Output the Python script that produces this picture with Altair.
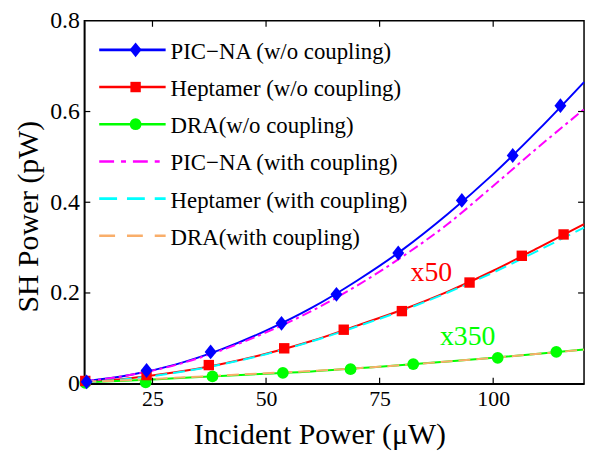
import altair as alt
import pandas as pd

# ---------------- data ----------------
x_line = [10, 20, 30, 40, 50, 60, 70, 80, 90, 100, 110, 120]
pic_wo = [0.005, 0.019, 0.042, 0.075, 0.117, 0.167, 0.227, 0.295, 0.374, 0.462, 0.560, 0.665]
hep_wo = [0.003, 0.012, 0.025, 0.043, 0.066, 0.094, 0.128, 0.163, 0.203, 0.249, 0.300, 0.352]
dra_wo = [0.003, 0.007, 0.012, 0.017, 0.022, 0.027, 0.034, 0.041, 0.049, 0.057, 0.066, 0.0755]
pic_w = [0.005, 0.019, 0.041, 0.073, 0.113, 0.160, 0.216, 0.280, 0.352, 0.436, 0.522, 0.605]
hep_w = [0.003, 0.011, 0.024, 0.042, 0.065, 0.093, 0.126, 0.161, 0.201, 0.245, 0.294, 0.344]
dra_w = [0.004, 0.008, 0.013, 0.018, 0.023, 0.028, 0.034, 0.041, 0.049, 0.057, 0.066, 0.075]

pic_mx = [10.5, 23.7, 37.8, 53.4, 65.5, 79.1, 93.1, 104.3, 114.8]
pic_my = [0.004, 0.029, 0.070, 0.133, 0.197, 0.288, 0.404, 0.503, 0.613]
hep_mx = [10.2, 23.7, 37.4, 54.0, 67.1, 79.9, 94.8, 106.3, 115.5]
hep_my = [0.006, 0.019, 0.041, 0.078, 0.119, 0.160, 0.223, 0.282, 0.329]
dra_mx = [10.2, 23.5, 38.2, 53.7, 68.6, 82.4, 101.0, 113.9]
dra_my = [0.002, 0.003, 0.016, 0.024, 0.032, 0.043, 0.057, 0.070]

labels = ["PIC\u2212NA (w/o coupling)", "Heptamer (w/o coupling)", "DRA(w/o coupling)",
          "PIC\u2212NA (with coupling)", "Heptamer (with coupling)", "DRA(with coupling)"]
colors = ["#0000FF", "#FF0000", "#00FF00", "#FF00FF", "#00FFFF", "#F9AE6A"]

ann_text = ["x50", "x350"]
ann_x = [86.4, 94.4]
ann_y = [0.244, 0.102]
ann_color = ["#FF0000", "#00FF00"]

x_ticks = [25, 50, 75, 100]
y_ticks = [0, 0.2, 0.4, 0.6, 0.8]

# ---------------- layout / style ----------------
FONT = "Liberation Serif, Times New Roman, serif"
W, H = 504, 366
TICK = 6
plot_dash = [None, None, None, [10, 4, 3, 4], [12, 6], [12, 6]]
leg_dash = [None, None, None, [15, 7, 5, 7], [18, 10], [16, 12]]
shapes = ["M-0.8,0L0,-1L0.8,0L0,1Z", "square", "circle"]
sizes = [225, 110, 140]

xs = alt.Scale(domain=[10, 120], nice=False, zero=False)
ys = alt.Scale(domain=[0, 0.8], nice=False, zero=False)

xaxis = alt.Axis(values=x_ticks, ticks=False, grid=False, labelFont=FONT, labelFontSize=22,
                 labelColor="black", labelPadding=5, domainColor="black", domainWidth=1.5,
                 title="Incident Power (\u03bcW)", titleFont=FONT, titleFontSize=30,
                 titleFontWeight="normal", titleColor="black", titleX=237, titleY=60,
                 titleBaseline="alphabetic", titleAlign="center")
yaxis = alt.Axis(values=y_ticks, ticks=False, grid=False, labelFont=FONT, labelFontSize=24,
                 labelColor="black", labelPadding=5, domainColor="black", domainWidth=1.5,
                 labelExpr="datum.value == 0 ? '0' : format(datum.value, '.1f')",
                 title="SH Power (pW)", titleFont=FONT, titleFontSize=30,
                 titleFontWeight="normal", titleColor="black", titleX=-47, titleY=197,
                 titleBaseline="alphabetic", titleAlign="center", titleAngle=-90)


def X(f="x"):
    return alt.X(f, type="quantitative", scale=xs, axis=xaxis)


def Y(f="y"):
    return alt.Y(f, type="quantitative", scale=ys, axis=yaxis)


layers = []

# curves
curves = [pic_wo, hep_wo, dra_wo, pic_w, hep_w, dra_w]
for i, yv in enumerate(curves):
    df = pd.DataFrame({"x": x_line, "y": yv})
    kw = dict(color=colors[i], strokeWidth=2, interpolate="monotone")
    if plot_dash[i]:
        kw["strokeDash"] = plot_dash[i]
    layers.append(alt.Chart(df).mark_line(**kw).encode(x=X(), y=Y()))

# markers (blue drawn last, on top)
marks = [(pic_mx, pic_my), (hep_mx, hep_my), (dra_mx, dra_my)]
for i in [2, 1, 0]:
    mx, my = marks[i]
    df = pd.DataFrame({"x": mx, "y": my})
    layers.append(alt.Chart(df).mark_point(shape=shapes[i], size=sizes[i], filled=True,
                                           opacity=1, color=colors[i], strokeWidth=0)
                  .encode(x=X(), y=Y()))

# annotations
ann = pd.DataFrame({"x": ann_x, "y": ann_y, "t": ann_text, "c": ann_color})
layers.append(alt.Chart(ann).mark_text(font=FONT, fontSize=28, align="center",
                                       baseline="middle")
              .encode(x=X(), y=Y(), text="t:N", color=alt.Color("c:N", scale=None)))

# inward ticks
xt = pd.DataFrame({"x": x_ticks})
yt = pd.DataFrame({"y": [v for v in y_ticks if 0 < v < 0.8]})
for (a, b) in [(H, H - TICK), (0, TICK)]:
    layers.append(alt.Chart(xt).mark_rule(color="black", strokeWidth=1.2)
                  .encode(x=X(), y=alt.value(a), y2=alt.value(b)))
for (a, b) in [(0, TICK), (W, W - TICK)]:
    layers.append(alt.Chart(yt).mark_rule(color="black", strokeWidth=1.2)
                  .encode(y=Y(), x=alt.value(a), x2=alt.value(b)))

# legend (inside plot, top-left)
leg_y0, leg_dy = 0.736, 0.082
for i, lab in enumerate(labels):
    df = pd.DataFrame({"y": [leg_y0 - i * leg_dy], "t": [lab]})
    kw = dict(color=colors[i], strokeWidth=2.6)
    if leg_dash[i]:
        kw["strokeDash"] = leg_dash[i]
    layers.append(alt.Chart(df).mark_rule(**kw)
                  .encode(y=Y(), x=alt.value(15), x2=alt.value(82)))
    if i < 3:
        layers.append(alt.Chart(df).mark_point(shape=shapes[i], size=sizes[i], filled=True,
                                               opacity=1, color=colors[i], strokeWidth=0)
                      .encode(y=Y(), x=alt.value(51.7)))
    layers.append(alt.Chart(df).mark_text(font=FONT, fontSize=23, align="left",
                                          baseline="middle", dy=2, color="black")
                  .encode(y=Y(), x=alt.value(87), text="t:N"))

chart = alt.layer(*layers).properties(
    width=W, height=H,
    autosize=alt.AutoSizeParams(type="none"),
    padding={"left": 77, "top": 11, "right": 4, "bottom": 70},
).configure_view(stroke="black", strokeWidth=1.5)

chart.save("out.html", embed_options={"renderer": "svg", "actions": False})
